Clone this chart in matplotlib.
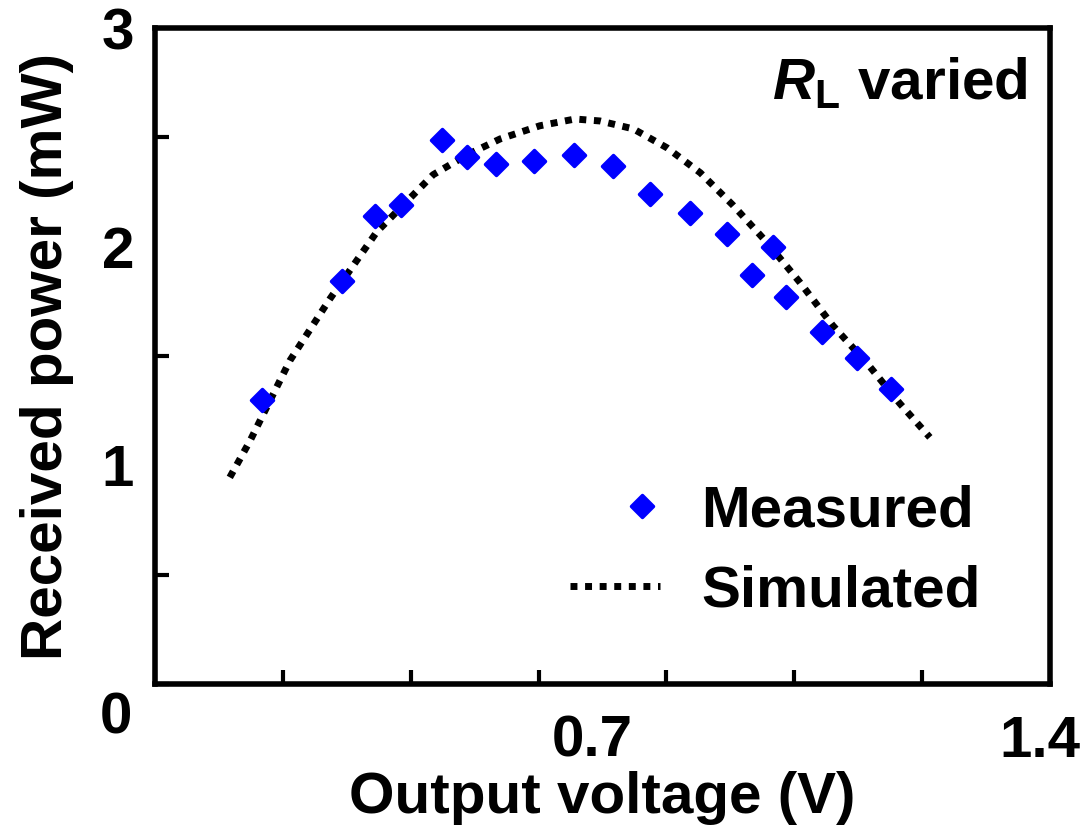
import numpy as np
import matplotlib.pyplot as plt
import matplotlib.transforms as mtransforms
from matplotlib.ticker import MultipleLocator
from matplotlib.legend_handler import HandlerLine2D
from matplotlib.markers import MarkerStyle

plt.rcParams['font.family'] = ['Liberation Sans', 'DejaVu Sans']
plt.rcParams['font.weight'] = 'bold'
plt.rcParams['mathtext.fontset'] = 'custom'
plt.rcParams['mathtext.rm'] = 'Liberation Sans:bold'
plt.rcParams['mathtext.bf'] = 'Liberation Sans:bold'
plt.rcParams['mathtext.it'] = 'Liberation Sans:bold:italic'
plt.rcParams['mathtext.bfit'] = 'Liberation Sans:bold:italic'

FS = 42

# measured points
meas_v = [0.167, 0.292, 0.344, 0.385, 0.449, 0.488, 0.533, 0.593, 0.655, 0.716,
          0.774, 0.837, 0.895, 0.967, 0.934, 0.987, 1.043, 1.098, 1.151]
meas_p = [1.30, 1.845, 2.14, 2.19, 2.49, 2.41, 2.38, 2.39, 2.42, 2.37,
          2.24, 2.155, 2.06, 2.00, 1.87, 1.77, 1.61, 1.49, 1.35]

# simulated curve
sim_v = [0.117, 0.149, 0.211, 0.274, 0.347, 0.435, 0.488, 0.540, 0.602, 0.657,
         0.696, 0.748, 0.801, 0.853, 0.904, 0.957, 1.009, 1.060, 1.114, 1.165, 1.212]
sim_p = [0.945, 1.114, 1.479, 1.763, 2.068, 2.329, 2.420, 2.493, 2.553, 2.584,
         2.575, 2.539, 2.452, 2.338, 2.190, 2.020, 1.836, 1.640, 1.466, 1.283, 1.128]


class RightMarker(HandlerLine2D):
    # single legend marker near the right end of the handle
    def get_xdata(self, legend, xdescent, ydescent, width, height, fontsize):
        xm = -xdescent + 0.8 * width
        return [xm], [xm]


fig = plt.figure(figsize=(10.86, 8.27), dpi=100)
ax = fig.add_axes([0.1427, 0.1729, 0.8242, 0.7932])

sim_line, = ax.plot(sim_v, sim_p, color='black', linewidth=5, linestyle=(0, (1, 1.1)),
                    label='Simulated', zorder=2)
meas_line, = ax.plot(meas_v, meas_p, linestyle='none',
                     marker=MarkerStyle('D', joinstyle='round'), markersize=11,
                     color='#0000ff', markeredgecolor='#0000ff', markeredgewidth=2.5,
                     label='Measured', zorder=3)

ax.set_xlim(0, 1.4)
ax.set_ylim(0, 3)
ax.set_xticks([0.7, 1.4])
ax.set_xticklabels(['0.7', '1.4'])
ax.set_yticks([1, 2, 3])
ax.set_yticklabels(['1', '2', '3'])
ax.xaxis.set_minor_locator(MultipleLocator(0.2))
ax.yaxis.set_minor_locator(MultipleLocator(0.5))
ax.tick_params(which='major', length=0, labelsize=FS, pad=15)
ax.tick_params(axis='x', which='major', pad=22)
ax.tick_params(which='minor', direction='in', length=10, width=3)
for s in ax.spines.values():
    s.set_linewidth(4)

offset = mtransforms.ScaledTranslation(-10 / 100, 0, fig.dpi_scale_trans)
for lbl in ax.get_xticklabels():
    lbl.set_transform(lbl.get_transform() + offset)

ax.text(-0.025, -0.052, '0', transform=ax.transAxes, fontsize=FS,
        fontweight='bold', ha='right', va='center')

ax.set_xlabel('Output voltage (V)', fontsize=FS, fontweight='bold', labelpad=2)
ax.set_ylabel('Received power (mW)', fontsize=FS, fontweight='bold', labelpad=20)

ax.text(0.975, 0.915, r'$\mathbfit{R}_{\mathbf{L}}$ varied', transform=ax.transAxes,
        fontsize=FS, fontweight='bold', ha='right', va='center')

ax.legend([meas_line, sim_line], ['Measured', 'Simulated'],
          loc='center left', bbox_to_anchor=(0.405, 0.2025), frameon=False,
          fontsize=FS, handlelength=1.55, handletextpad=0.7, labelspacing=0.45,
          numpoints=1, handler_map={meas_line: RightMarker(numpoints=2)})

fig.savefig('out.png', dpi=100)
